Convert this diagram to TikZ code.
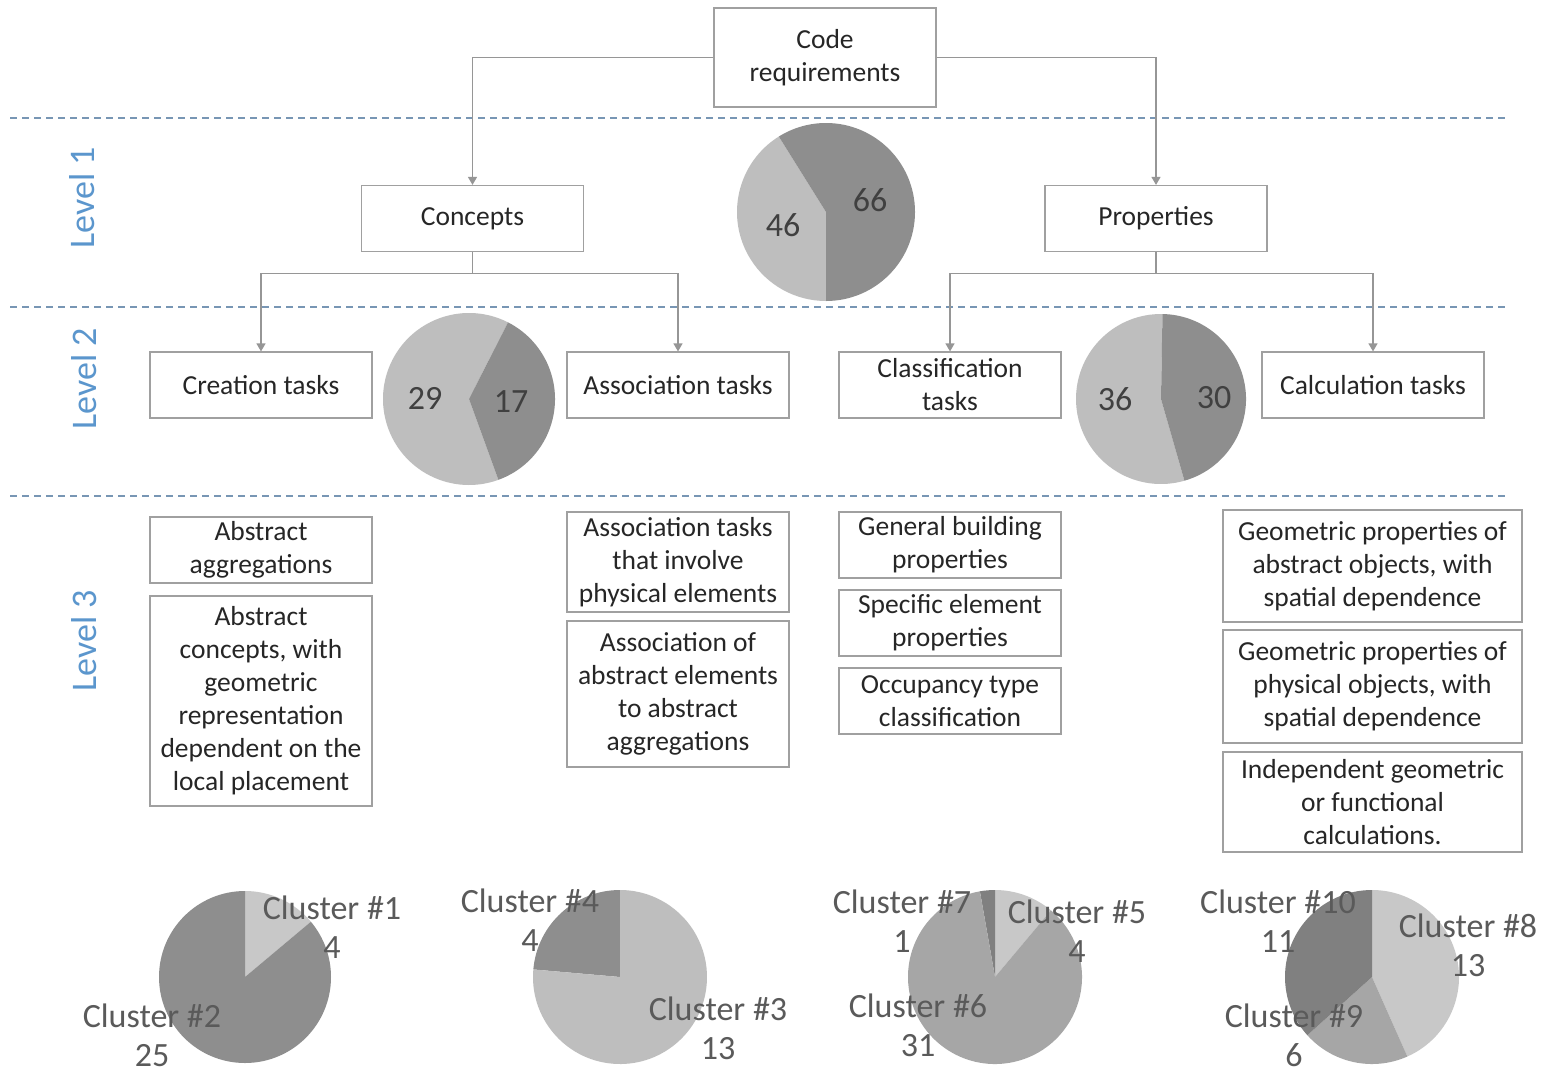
\documentclass[tikz,border=0pt]{standalone}
\usepackage{fontspec}
\setmainfont{Carlito}
\usetikzlibrary{arrows.meta}
\definecolor{boxline}{RGB}{160,160,160}
\definecolor{txt}{RGB}{38,38,38}
\definecolor{conncol}{RGB}{150,150,150}
\definecolor{dashcol}{RGB}{120,150,180}
\definecolor{levelcol}{RGB}{91,150,205}
\definecolor{pielight}{RGB}{190,190,190}
\definecolor{piedark}{RGB}{142,142,142}
\definecolor{pielighter}{RGB}{200,200,200}
\definecolor{piemid}{RGB}{166,166,166}
\definecolor{piedarker}{RGB}{128,128,128}
\definecolor{numcol}{RGB}{64,64,64}
\definecolor{clucol}{RGB}{90,90,90}
\newcommand{\myslice}[6]{%
  \fill[#6] (#1,#2) -- ++(#4:#3) arc[start angle=#4, end angle=#5, radius=#3] -- cycle;}
\begin{document}
\begin{tikzpicture}[x=1pt,y=-1pt,
  box/.style={draw=boxline, line width=1.2pt, fill=white, minimum width=222pt,
    minimum height=66pt, inner sep=0pt, align=center,
    font=\fontsize{27.5}{33}\selectfont, text=txt},
  widebox/.style={box, minimum width=299pt},
  conn/.style={draw=conncol, line width=1.2pt, -{Triangle[width=9pt,length=8pt]}},
  sep/.style={draw=dashcol, line width=1.3pt, dash pattern=on 7pt off 5pt},
  level/.style={rotate=90, text=levelcol, font=\fontsize{36}{42}\selectfont},
  pienum/.style={text=numcol, font=\fontsize{34}{40}\selectfont},
  clu/.style={text=clucol, align=center, font=\fontsize{34}{39}\selectfont, inner sep=0pt}]
\useasboundingbox (0,0) rectangle (1552,1074);
\fill[white] (0,0) rectangle (1552,1074);

% separators
\draw[sep] (10,118) -- (1508,118);
\draw[sep] (10,307) -- (1508,307);
\draw[sep] (10,496) -- (1508,496);

% level labels
\node[level] (lv1) at (82,198) {Level 1};
\node[level] (lv2) at (84,379) {Level 2};
\node[level] (lv3) at (84,641) {Level 3};

% level 0/1/2 boxes
\node[box, minimum height=99pt] (code) at (825,57.5) {Code\\requirements};
\node[box] (concepts) at (472.5,218.5) {Concepts};
\node[box] (props) at (1156,218.5) {Properties};
\node[box] (creation) at (261,385) {Creation tasks};
\node[box] (assoc) at (678,385) {Association tasks};
\node[box] (classif) at (950,385) {Classification\\tasks};
\node[box] (calc) at (1373,385) {Calculation tasks};

% level 3 boxes
\node[box] (absagg) at (261,550) {Abstract\\aggregations};
\node[box, minimum height=210pt] (absconc) at (261,701) {Abstract\\concepts,  with\\geometric\\representation\\dependent on the\\local placement};
\node[box, minimum height=100pt] (assocphys) at (678,562) {Association tasks\\that involve\\physical elements};
\node[box, minimum height=146pt] (assocabs) at (678,694) {Association of\\abstract elements\\to abstract\\aggregations};
\node[box] (genbuild) at (950,545) {General building\\properties};
\node[box] (specelem) at (950,623) {Specific element\\properties};
\node[box] (occup) at (950,701) {Occupancy type\\classification};
\node[widebox, minimum height=112pt] (geoabs) at (1372.5,566) {Geometric properties of\\abstract objects, with\\spatial dependence};
\node[widebox, minimum height=113pt] (geophys) at (1372.5,686.5) {Geometric properties of\\physical objects, with\\spatial dependence};
\node[widebox, minimum height=100pt] (indep) at (1372.5,802) {Independent geometric\\or functional\\calculations.};

% connectors
\draw[conn] (code.west) -| (concepts.north);
\draw[conn] (code.east) -| (props.north);
\draw[conn] (concepts.south) -- ++(0,21) -| (creation.north);
\draw[conn] (concepts.south) -- ++(0,21) -| (assoc.north);
\draw[conn] (props.south) -- ++(0,21) -| (classif.north);
\draw[conn] (props.south) -- ++(0,21) -| (calc.north);

% level 1 pie
\myslice{826}{212}{89pt}{122}{270}{pielight}
\myslice{826}{212}{89pt}{-90}{122}{piedark}
\node[pienum] (n46) at (783,225) {46};
\node[pienum] (n66) at (870,200) {66};

% level 2 pies
\myslice{469}{399}{86pt}{63}{290}{pielight}
\myslice{469}{399}{86pt}{-70}{63}{piedark}
\node[pienum] (n29) at (425,398) {29};
\node[pienum] (n17) at (511,402) {17};

\myslice{1161}{399}{85pt}{89}{286}{pielight}
\myslice{1161}{399}{85pt}{-74}{89}{piedark}
\node[pienum] (n36) at (1115,399) {36};
\node[pienum] (n30) at (1214,398) {30};

% level 3 pies
\myslice{245}{977}{86pt}{40}{90}{pielighter}
\myslice{245}{977}{86pt}{90}{400}{piedark}
\myslice{620}{977}{87pt}{90}{175}{piedark}
\myslice{620}{977}{87pt}{175}{450}{pielight}
\myslice{995}{977}{87pt}{50}{90}{pielighter}
\myslice{995}{977}{87pt}{90}{100}{piedarker}
\myslice{995}{977}{87pt}{100}{410}{piemid}
\myslice{1372}{977}{87pt}{-66}{90}{pielighter}
\myslice{1372}{977}{87pt}{-138}{-66}{piemid}
\myslice{1372}{977}{87pt}{-270}{-138}{piedarker}

\node[clu] (c1) at (332,927) {Cluster \#1\\4};
\node[clu] (c2) at (152,1035) {Cluster \#2\\25};
\node[clu] (c4) at (530,920) {Cluster \#4\\4};
\node[clu] (c3) at (718,1028) {Cluster \#3\\13};
\node[clu] (c7) at (902,921) {Cluster \#7\\1};
\node[clu] (c5) at (1077,931) {Cluster \#5\\4};
\node[clu] (c6) at (918,1025) {Cluster \#6\\31};
\node[clu] (c10) at (1278,921) {Cluster \#10\\11};
\node[clu] (c8) at (1468,945) {Cluster \#8\\13};
\node[clu] (c9) at (1294,1035) {Cluster \#9\\6};
\end{tikzpicture}
\end{document}
